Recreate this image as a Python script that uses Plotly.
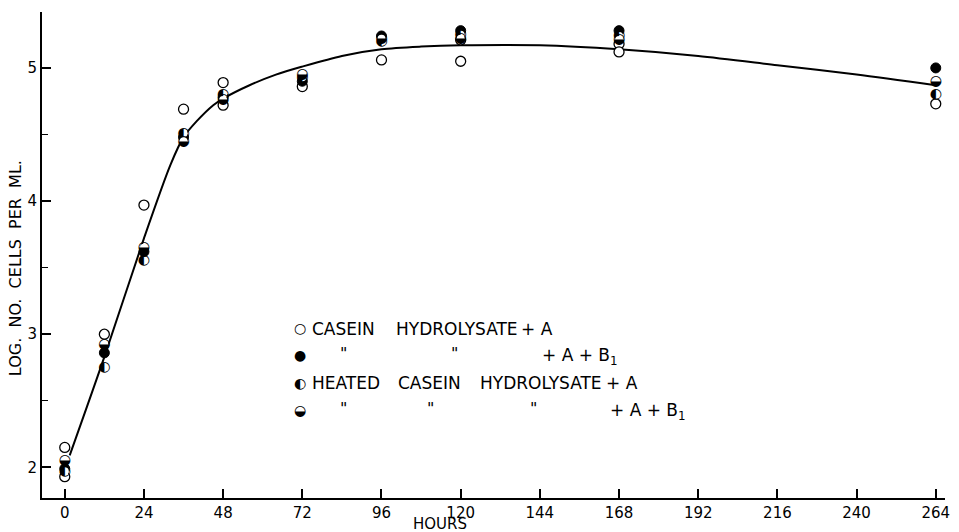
import plotly.graph_objects as go

# ---- data ----
curve_hours = [1.5, 12, 24, 32, 36, 40, 45, 48, 56, 64, 72, 84, 96, 108, 120, 144, 168, 192, 216, 240, 264]
curve_log = [2.09, 2.83, 3.72, 4.27, 4.48, 4.60, 4.72, 4.77, 4.87, 4.95, 5.01, 5.09, 5.14, 5.16, 5.17, 5.17, 5.14, 5.09, 5.02, 4.95, 4.87]

casein_a_hours = [0, 0, 12, 24, 36, 48, 48, 72, 96, 120, 120, 168, 168, 264]
casein_a_log = [2.15, 1.93, 3.00, 3.97, 4.69, 4.89, 4.72, 4.86, 5.06, 5.21, 5.05, 5.18, 5.12, 4.73]

casein_ab_hours = [0, 12, 24, 36, 48, 72, 96, 120, 168, 264]
casein_ab_log = [1.99, 2.86, 3.62, 4.48, 4.78, 4.90, 5.24, 5.28, 5.28, 5.00]

heated_a_hours = [0, 12, 24, 36, 48, 72, 96, 120, 168, 264]
heated_a_log = [1.97, 2.75, 3.55, 4.51, 4.80, 4.93, 5.20, 5.25, 5.24, 4.80]

heated_ab_hours = [0, 12, 24, 36, 48, 72, 96, 120, 168, 264]
heated_ab_log = [2.05, 2.92, 3.65, 4.45, 4.76, 4.95, 5.22, 5.22, 5.21, 4.90]

x_ticks = [0, 24, 48, 72, 96, 120, 144, 168, 192, 216, 240, 264]
y_ticks = [2, 3, 4, 5]
y_minor = [2.5, 3.5, 4.5]

FONT = "DejaVu Sans"

fig = go.Figure()
fig.add_trace(go.Scatter(x=curve_hours, y=curve_log, mode="lines",
                         line=dict(color="black", width=2, shape="spline", smoothing=0.8),
                         hoverinfo="skip", showlegend=False))
fig.add_trace(go.Scatter(x=casein_a_hours, y=casein_a_log, mode="markers",
                         marker=dict(symbol="circle", size=10, color="white",
                                     line=dict(color="black", width=1.3)),
                         showlegend=False))
fig.add_trace(go.Scatter(x=casein_ab_hours, y=casein_ab_log, mode="markers",
                         marker=dict(symbol="circle", size=10, color="black",
                                     line=dict(color="black", width=1)),
                         showlegend=False))
for hrs, vals, glyph in [(heated_a_hours, heated_a_log, "◐"), (heated_ab_hours, heated_ab_log, "◒")]:
    fig.add_trace(go.Scatter(x=hrs, y=vals, mode="markers+text",
                             text=[glyph] * len(hrs), textposition="middle center",
                             textfont=dict(family=FONT, size=14, color="black"),
                             marker=dict(symbol="circle", size=8, color="white", line=dict(width=0)),
                             showlegend=False))

ann = []
def t(x, y, s, size=17, xanchor="left", yanchor="middle", **kw):
    ann.append(dict(x=x, y=y, xref="paper", yref="paper", text=s, showarrow=False,
                    xanchor=xanchor, yanchor=yanchor,
                    font=dict(family=FONT, size=size, color="black"), **kw))

W, H = 959.0, 532.0
L, R, T, B = 42, 9, 12, 34
pw, ph = W - L - R, H - T - B
def px(x): return (x - L) / pw
def py(y): return (H - B - y) / ph

# legend rows
t(px(301), py(328), "○", 14, "center")
t(px(311), py(329), "CASEIN")
t(px(396), py(329), "HYDROLYSATE")
t(px(522), py(329), "+ A")

t(px(301), py(355), "●", 14, "center")
t(px(345), py(353), '"', 16, "center")
t(px(457), py(353), '"', 16, "center")
t(px(543), py(356), "+ A + B<sub>1</sub>")

t(px(301), py(383), "◐", 14, "center")
t(px(311), py(383), "HEATED")
t(px(398), py(383), "CASEIN")
t(px(480), py(383), "HYDROLYSATE")
t(px(607), py(383), "+ A")

t(px(301), py(410), "◒", 14, "center")
t(px(345), py(408), '"', 16, "center")
t(px(433), py(408), '"', 16, "center")
t(px(536), py(408), '"', 16, "center")
t(px(611), py(411), "+ A + B<sub>1</sub>")

# axis titles
t(px(442), py(535), "HOURS", 15, "center", "bottom")
t(px(15), py(268), "LOG.  NO.  CELLS  PER  ML.", 16, "center", textangle=-90)

fig.update_layout(
    width=959, height=532,
    margin=dict(l=L, r=R, t=T, b=B),
    paper_bgcolor="white", plot_bgcolor="white",
    annotations=ann,
    xaxis=dict(range=[-6.9, 266.8], tickvals=x_ticks, ticks="inside", ticklen=9, tickwidth=1.5,
               tickcolor="black", showline=True, linecolor="black", linewidth=2,
               showgrid=False, zeroline=False,
               tickfont=dict(family=FONT, size=15, color="black")),
    yaxis=dict(range=[1.77, 5.42], tickvals=y_ticks, ticks="inside", ticklen=9, tickwidth=1.5,
               tickcolor="black", showline=True, linecolor="black", linewidth=2,
               showgrid=False, zeroline=False,
               minor=dict(tickvals=y_minor, ticks="inside", ticklen=6, tickwidth=1.2, tickcolor="black"),
               tickfont=dict(family=FONT, size=15, color="black")),
)

fig.write_html("out.html")
